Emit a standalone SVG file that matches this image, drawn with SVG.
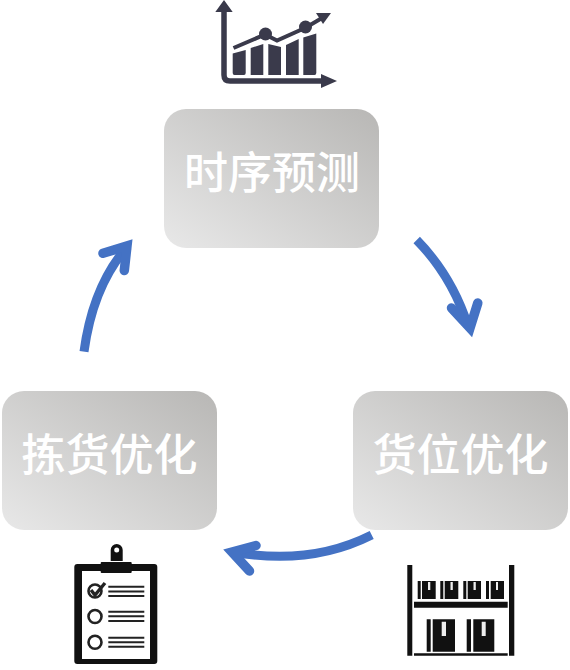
<svg xmlns="http://www.w3.org/2000/svg" width="570" height="670" viewBox="0 0 570 670">
<style>
.box{fill:url(#g)}
.lbl{font-family:"Noto Sans CJK SC","Noto Sans",sans-serif;font-size:44px;font-weight:500;fill:#fff;text-anchor:middle}
.shaft{fill:none;stroke:#4472c4;stroke-width:9}
.head{fill:none;stroke:#4472c4;stroke-width:9.500;stroke-linecap:round;stroke-linejoin:miter;stroke-miterlimit:10}
.ic{fill:#3a3a4b}
.bk{fill:#111}
.ln{stroke:#222;stroke-width:2}
.ring{fill:#fff;stroke:#222;stroke-width:2.600}
</style>
<defs>
<linearGradient id="g" x1="0" y1="1" x2="1" y2="0"><stop offset="0" stop-color="#e8e8e8"/><stop offset="1" stop-color="#b8b7b5"/></linearGradient>
</defs>
<g id="connectors">
<path class="shaft" d="M416.700 240Q452 276 468 326"/>
<path class="head" d="M451.500 308L470 328L477.800 303"/>
<path class="shaft" d="M371.700 535Q310 566 234 552"/>
<path class="head" d="M256 545.500L232 552L249.500 571"/>
<path class="shaft" d="M84 351.700Q93 285 128 246"/>
<path class="head" d="M103 253.300L127 246L124.300 270.500"/>
</g>
<g id="node-forecast">
<rect class="box" x="164" y="109" width="215" height="139" rx="22"/>
<text class="lbl" x="272" y="189">时序预测</text>
</g>
<g id="node-slotting">
<rect class="box" x="353" y="391" width="215" height="139" rx="22"/>
<text class="lbl" x="460.500" y="471">货位优化</text>
</g>
<g id="node-picking">
<rect class="box" x="2" y="391" width="215" height="139" rx="22"/>
<text class="lbl" x="109.500" y="471">拣货优化</text>
</g>
<g id="icon-chart">
<path d="M224 10V75Q224 81 230 81H322" fill="none" stroke="#3a3a4b" stroke-width="5.500"/>
<path class="ic" d="M215.300 12L224 0L232.700 12ZM321 74L337 81L321 88Z"/>
<path class="ic" d="M232.700 53.500L245.700 50V73Q245.700 75 244 75H234.500Q232.700 75 232.700 73ZM250.700 48L263.300 44V75H250.700ZM268.300 44L281 47V75H268.300ZM286 45L298.700 39V75H286ZM303.300 37.500L316.300 33.500V73Q316.300 75 314.500 75H303.300Z"/>
<path d="M233.500 48L265 34.500L277 40.500L306 27.500L322 18" fill="none" stroke="#3a3a4b" stroke-width="4"/>
<circle class="ic" cx="265.500" cy="34" r="6.500"/>
<circle class="ic" cx="305.500" cy="27" r="6.500"/>
<path class="ic" d="M316 13L331 13L323 24Z"/>
</g>
<g id="icon-clipboard">
<rect class="bk" x="74.300" y="564" width="83" height="100" rx="3"/>
<rect x="82" y="571" width="68" height="88" fill="#fff"/>
<rect class="bk" x="100.700" y="562" width="31" height="11" rx="1"/>
<path class="bk" d="M110.700 561V550A6 6 0 0 1 122.700 550V561Z"/>
<circle cx="116.700" cy="550" r="2.500" fill="#fff"/>
<circle class="ring" cx="95" cy="591" r="6.500"/>
<circle class="ring" cx="95" cy="616.500" r="6.500"/>
<circle class="ring" cx="95" cy="642.300" r="6.500"/>
<path d="M91 590L95 595L105 583" fill="none" stroke="#222" stroke-width="3.400"/>
<path class="ln" d="M108.300 586.700H144.300M108.300 591.500H144.300M108.300 596H144.300M108.300 611.700H144.300M108.300 616.300H144.300M108.300 621H144.300M108.300 637.700H144.300M108.300 642.300H144.300M108.300 646.700H144.300"/>
</g>
<g id="icon-shelf">
<path class="bk" d="M407.300 565H412.300V655.700H407.300ZM509 565H514.300V655.700H509ZM414 601.700H507.700V607.700H414ZM414 653.300H507.700V655.700H414Z"/>
<path class="bk" d="M417.700 581H420.700V599H417.700ZM422 581H435.700V599H422ZM440.300 581H443.300V599H440.300ZM444.700 581H458.300V599H444.700ZM463.300 581H466.300V599H463.300ZM467.700 581H481V599H467.700ZM486 581H489V599H486ZM490.700 581H504V599H490.700Z"/>
<path class="bk" d="M426.700 619.300H430.700V651.700H426.700ZM432.700 619.300H455V651.700H432.700ZM466.700 619.300H471V651.700H466.700ZM473.300 619.300H494.300V651.700H473.300Z"/>
<path fill="#eee" d="M428 582H430.300V590H428ZM450.500 582H452.800V590H450.500ZM473.500 582H475.800V590H473.500ZM496 582H498V590H496ZM441.700 621.700H446V636H441.700ZM481.700 621.700H485.700V636H481.700Z"/>
</g>
</svg>
